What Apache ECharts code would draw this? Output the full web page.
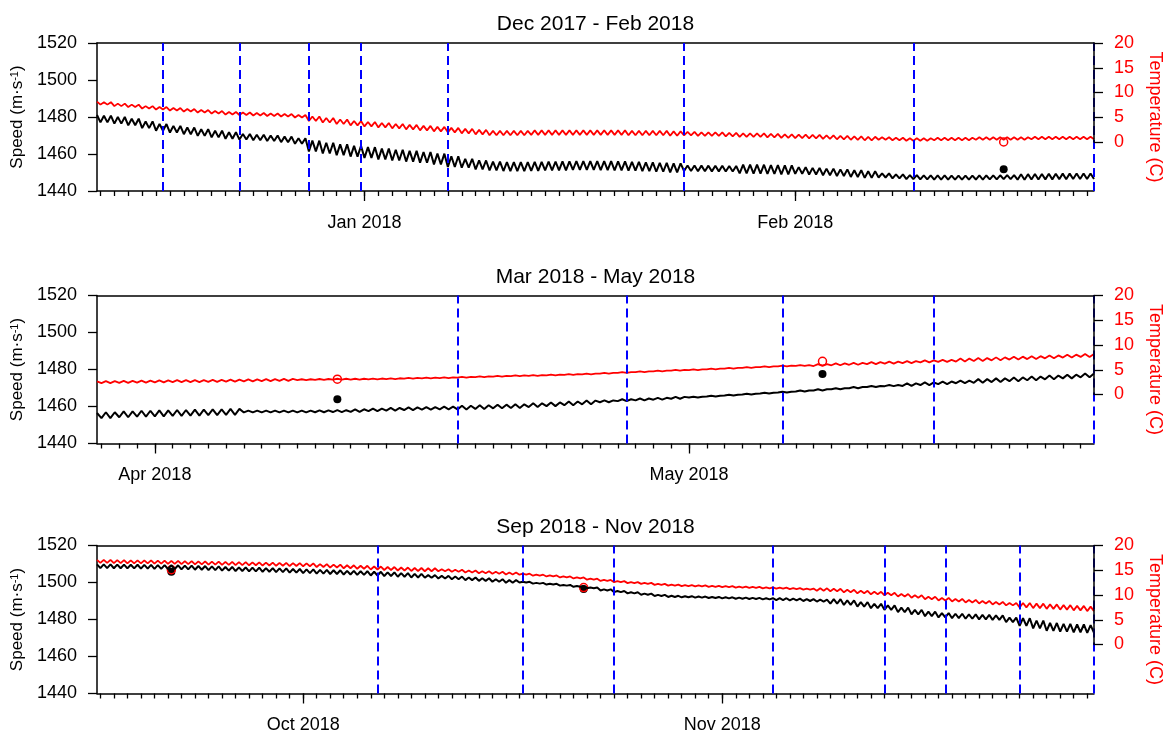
<!DOCTYPE html>
<html>
<head>
<meta charset="utf-8">
<script src="https://cdn.jsdelivr.net/npm/echarts@6/dist/echarts.min.js"></script>
<style>
html, body { margin: 0; padding: 0; background: #fff; }
#chart { width: 1166px; height: 734px; }
</style>
</head>
<body>
<div id="chart"></div>
<script>
// sound speed (m/s) and temperature (C), one value every 6 hours

// ---- panel 1: Dec 2017 - Feb 2018 (starts 2017-12-12 18:00) ----
var p1Speed = [1481.1,
1477.1,1480.7,1477.1,1480.7, 1476.4,1480.0,1476.4,1480.0, 1475.5,1479.1,1475.5,1479.1, 1474.0,1477.6,1474.0,1477.6,
1472.6,1476.2,1472.6,1476.2, 1471.6,1475.2,1471.6,1475.2, 1470.7,1474.3,1470.7,1474.3, 1469.8,1473.4,1469.8,1473.4,
1469.0,1472.6,1469.0,1472.6, 1468.2,1471.8,1468.2,1471.8, 1467.8,1470.8,1467.8,1470.8, 1467.4,1470.4,1467.4,1470.4,
1467.0,1470.0,1467.0,1470.0, 1466.4,1469.4,1466.4,1469.4, 1465.5,1468.5,1465.5,1468.5, 1461.4,1467.2,1461.4,1467.2,
1460.3,1466.1,1460.3,1466.1, 1459.4,1465.2,1459.4,1465.2, 1458.6,1464.4,1458.6,1464.4,
1457.9,1463.7,1457.9,1463.7, 1457.1,1462.9,1457.1,1462.9, 1456.5,1462.3,1456.5,1462.3, 1455.9,1461.7,1455.9,1461.7,
1455.3,1461.1,1455.3,1461.1, 1454.4,1460.2,1454.4,1460.2, 1453.0,1458.8,1453.0,1458.8, 1452.6,1457.4,1452.6,1457.4,
1451.7,1456.5,1451.7,1456.5, 1451.1,1455.9,1451.1,1455.9, 1450.8,1455.6,1450.8,1455.6, 1450.8,1455.6,1450.8,1455.6,
1450.9,1455.7,1450.9,1455.7, 1451.1,1455.9,1451.1,1455.9, 1451.2,1456.0,1451.2,1456.0, 1451.4,1456.2,1451.4,1456.2,
1451.4,1456.2,1451.4,1456.2, 1451.3,1456.1,1451.3,1456.1, 1451.2,1456.0,1451.2,1456.0, 1451.0,1455.8,1451.0,1455.8,
1450.7,1455.5,1450.7,1455.5, 1450.4,1455.2,1450.4,1455.2, 1450.1,1454.9,1450.1,1454.9, 1450.8,1453.8,1450.8,1453.8,
1450.7,1453.7,1450.7,1453.7, 1450.6,1453.6,1450.6,1453.6, 1450.5,1453.5,1450.5,1453.5, 1449.5,1454.3,1449.5,1454.3,
1449.4,1454.2,1449.4,1454.2, 1449.2,1454.0,1449.2,1454.0, 1449.0,1453.8,1449.0,1453.8,
1449.3,1452.9,1449.3,1452.9, 1448.9,1452.5,1448.9,1452.5, 1448.5,1452.1,1448.5,1452.1, 1448.1,1451.7,1448.1,1451.7,
1447.6,1451.2,1447.6,1451.2, 1447.1,1450.7,1447.1,1450.7, 1447.3,1449.5,1447.3,1449.5, 1446.8,1449.0,1446.8,1449.0,
1446.4,1448.6,1446.4,1448.6, 1446.3,1448.5,1446.3,1448.5, 1446.2,1448.4,1446.2,1448.4, 1446.1,1448.3,1446.1,1448.3,
1446.1,1448.3,1446.1,1448.3, 1446.2,1448.4,1446.2,1448.4, 1446.3,1448.5,1446.3,1448.5, 1446.4,1448.6,1446.4,1448.6,
1446.1,1449.1,1446.1,1449.1, 1446.2,1449.2,1446.2,1449.2, 1446.3,1449.3,1446.3,1449.3, 1446.4,1449.4,1446.4,1449.4,
1446.5,1449.5,1446.5,1449.5, 1446.5,1449.5,1446.5];
var p1Temp = [8.15,
7.55,8.05,7.55,8.05, 7.25,7.75,7.25,7.75, 7.05,7.55,7.05,7.55, 6.75,7.25,6.75,7.25,
6.55,7.05,6.55,7.05, 6.35,6.85,6.35,6.85, 6.15,6.65,6.15,6.65, 5.95,6.45,5.95,6.45,
5.75,6.25,5.75,6.25, 5.55,6.05,5.55,6.05, 5.45,5.95,5.45,5.95, 5.35,5.85,5.35,5.85,
5.25,5.75,5.25,5.75, 5.15,5.65,5.15,5.65, 4.95,5.45,4.95,5.45, 4.25,5.15,4.25,5.15,
3.95,4.85,3.95,4.85, 3.65,4.55,3.65,4.55, 3.35,4.25,3.35,4.25,
3.15,4.05,3.15,4.05, 2.95,3.85,2.95,3.85, 2.75,3.65,2.75,3.65, 2.55,3.45,2.55,3.45,
2.35,3.25,2.35,3.25, 2.15,3.05,2.15,3.05, 1.95,2.85,1.95,2.85, 1.75,2.65,1.75,2.65,
1.55,2.45,1.55,2.45, 1.35,2.25,1.35,2.25, 1.35,2.25,1.35,2.25, 1.35,2.25,1.35,2.25,
1.45,2.35,1.45,2.35, 1.45,2.35,1.45,2.35, 1.45,2.35,1.45,2.35, 1.45,2.35,1.45,2.35,
1.45,2.35,1.45,2.35, 1.45,2.35,1.45,2.35, 1.45,2.35,1.45,2.35, 1.35,2.25,1.35,2.25,
1.35,2.25,1.35,2.25, 1.35,2.25,1.35,2.25, 1.25,2.15,1.25,2.15, 1.35,2.05,1.35,2.05,
1.25,1.95,1.25,1.95, 1.25,1.95,1.25,1.95, 1.15,1.85,1.15,1.85, 1.05,1.75,1.05,1.75,
1.05,1.75,1.05,1.75, 0.95,1.65,0.95,1.65, 0.85,1.55,0.85,1.55,
0.80,1.50,0.80,1.50, 0.75,1.45,0.75,1.45, 0.65,1.35,0.65,1.35, 0.55,1.25,0.55,1.25,
0.45,1.15,0.45,1.15, 0.35,1.05,0.35,1.05, 0.45,0.95,0.45,0.95, 0.35,0.85,0.35,0.85,
0.25,0.75,0.25,0.75, 0.25,0.75,0.25,0.75, 0.35,0.85,0.35,0.85, 0.35,0.85,0.35,0.85,
0.35,0.85,0.35,0.85, 0.45,0.95,0.45,0.95, 0.45,0.95,0.45,0.95, 0.45,0.95,0.45,0.95,
0.45,0.95,0.45,0.95, 0.55,1.05,0.55,1.05, 0.55,1.05,0.55,1.05, 0.55,1.05,0.55,1.05,
0.55,1.05,0.55,1.05, 0.55,1.05,0.55];
var p1MonthDates = ['2018-01-01T00', '2018-02-01T00'];
var p1MonthLabels = ['Jan 2018', 'Feb 2018'];
var p1Events = ['2017-12-17T12', '2017-12-23T00', '2017-12-28T00', '2017-12-31T18', '2018-01-07T00', '2018-01-24T00', '2018-02-09T12', '2018-02-22T12'];
var p1ObsTime = ['2018-02-16T00'];
var p1ObsSpeed = [1451.7];
var p1ObsTemp = [0.0];

// ---- panel 2: Mar 2018 - May 2018 (starts 2018-03-28 18:00) ----
var p2Speed = [1456.5,
1453.7,1456.9,1453.7,1456.9, 1454.2,1457.4,1454.2,1457.4, 1454.5,1457.7,1454.5,1457.7,
1454.7,1457.9,1454.7,1457.9, 1454.9,1458.1,1454.9,1458.1, 1455.1,1458.3,1455.1,1458.3, 1455.3,1458.5,1455.3,1458.5,
1455.5,1458.7,1455.5,1458.7, 1456.8,1457.8,1456.8,1457.8, 1456.8,1457.8,1456.8,1457.8, 1456.8,1457.8,1456.8,1457.8,
1456.8,1457.8,1456.8,1457.8, 1456.9,1457.9,1456.9,1457.9, 1457.0,1458.0,1457.0,1458.0, 1457.1,1458.5,1457.1,1458.5,
1457.5,1458.9,1457.5,1458.9, 1457.8,1459.2,1457.8,1459.2, 1458.1,1459.5,1458.1,1459.5, 1458.3,1459.7,1458.3,1459.7,
1458.5,1459.9,1458.5,1459.9, 1458.4,1460.4,1458.4,1460.4, 1458.7,1460.7,1458.7,1460.7, 1459.0,1461.0,1459.0,1461.0,
1459.2,1461.2,1459.2,1461.2, 1459.7,1461.7,1459.7,1461.7, 1460.2,1462.2,1460.2,1462.2, 1460.7,1462.7,1460.7,1462.7,
1461.2,1463.2,1461.2,1463.2, 1462.3,1463.3,1462.3,1463.3, 1462.9,1463.9,1462.9,1463.9, 1463.3,1464.3,1463.3,1464.3,
1463.7,1464.7,1463.7,1464.7, 1464.2,1465.2,1464.2,1465.2,
1464.9,1465.3,1464.9,1465.3, 1465.4,1465.8,1465.4,1465.8, 1465.9,1466.3,1465.9,1466.3, 1466.5,1466.9,1466.5,1466.9,
1467.0,1467.4,1467.0,1467.4, 1467.6,1468.0,1467.6,1468.0, 1468.1,1468.7,1468.1,1468.7, 1468.7,1469.3,1468.7,1469.3,
1469.3,1469.9,1469.3,1469.9, 1469.9,1470.5,1469.9,1470.5, 1470.5,1471.1,1470.5,1471.1, 1471.0,1471.6,1471.0,1471.6,
1471.1,1472.5,1471.1,1472.5, 1471.6,1473.0,1471.6,1473.0, 1472.1,1473.5,1472.1,1473.5, 1472.6,1474.0,1472.6,1474.0,
1472.8,1474.8,1472.8,1474.8, 1473.2,1475.2,1473.2,1475.2, 1473.7,1475.7,1473.7,1475.7, 1474.2,1476.2,1474.2,1476.2,
1474.7,1476.7,1474.7,1476.7, 1475.2,1477.2,1475.2,1477.2, 1475.8,1477.8,1475.8,1477.8];
var p2Temp = [2.65,
2.30,2.70,2.30,2.70, 2.35,2.75,2.35,2.75, 2.40,2.80,2.40,2.80,
2.45,2.85,2.45,2.85, 2.50,2.90,2.50,2.90, 2.50,2.90,2.50,2.90, 2.55,2.95,2.55,2.95,
2.60,3.00,2.60,3.00, 2.65,3.05,2.65,3.05, 2.70,3.10,2.70,3.10, 2.75,3.15,2.75,3.15,
2.92,3.08,2.92,3.08, 2.97,3.13,2.97,3.13, 3.02,3.18,3.02,3.18, 3.02,3.18,3.02,3.18,
3.07,3.23,3.07,3.23, 3.12,3.28,3.12,3.28, 3.22,3.38,3.22,3.38, 3.27,3.43,3.27,3.43,
3.32,3.48,3.32,3.48, 3.42,3.58,3.42,3.58, 3.52,3.68,3.52,3.68, 3.62,3.78,3.62,3.78,
3.72,3.88,3.72,3.88, 3.77,3.93,3.77,3.93, 3.87,4.03,3.87,4.03, 3.97,4.13,3.97,4.13,
4.07,4.23,4.07,4.23, 4.22,4.38,4.22,4.38, 4.37,4.53,4.37,4.53, 4.52,4.68,4.52,4.68,
4.67,4.83,4.67,4.83, 4.82,4.98,4.82,4.98,
4.92,5.08,4.92,5.08, 5.07,5.23,5.07,5.23, 5.22,5.38,5.22,5.38, 5.37,5.53,5.37,5.53,
5.52,5.68,5.52,5.68, 5.67,5.83,5.67,5.83, 5.77,5.93,5.77,5.93, 5.75,6.15,5.75,6.15,
5.90,6.30,5.90,6.30, 6.00,6.40,6.00,6.40, 6.15,6.55,6.15,6.55, 6.25,6.65,6.25,6.65,
6.35,6.75,6.35,6.75, 6.50,6.90,6.50,6.90, 6.60,7.00,6.60,7.00, 6.65,7.25,6.65,7.25,
6.75,7.35,6.75,7.35, 6.90,7.50,6.90,7.50, 7.05,7.65,7.05,7.65, 7.15,7.75,7.15,7.75,
7.30,7.90,7.30,7.90, 7.45,8.05,7.45,8.05, 7.60,8.20,7.60,8.20];
var p2MonthDates = ['2018-04-01T00', '2018-05-01T00'];
var p2MonthLabels = ['Apr 2018', 'May 2018'];
var p2Events = ['2018-04-18T00', '2018-04-27T12', '2018-05-06T06', '2018-05-14T18', '2018-05-23T18'];
var p2ObsTime = ['2018-04-11T06', '2018-05-08T12'];
var p2ObsSpeed = [1463.9, 1477.6];
var p2ObsTemp = [3.1, 6.7];

// ---- panel 3: Sep 2018 - Nov 2018 (starts 2018-09-15 18:00) ----
var p3Speed = [1509.8,
1507.8,1509.8,1507.8,1509.8, 1507.7,1509.7,1507.7,1509.7, 1507.6,1509.6,1507.6,1509.6, 1507.5,1509.5,1507.5,1509.5,
1507.4,1509.4,1507.4,1509.4, 1507.3,1509.3,1507.3,1509.3, 1507.1,1509.1,1507.1,1509.1, 1506.9,1508.9,1506.9,1508.9,
1506.7,1508.7,1506.7,1508.7, 1506.4,1508.4,1506.4,1508.4, 1506.2,1508.2,1506.2,1508.2, 1506.0,1508.0,1506.0,1508.0,
1505.8,1507.8,1505.8,1507.8, 1505.6,1507.6,1505.6,1507.6, 1505.3,1507.3,1505.3,1507.3,
1505.1,1507.1,1505.1,1507.1, 1504.8,1506.8,1504.8,1506.8, 1504.6,1506.6,1504.6,1506.6, 1504.3,1506.3,1504.3,1506.3,
1504.1,1506.1,1504.1,1506.1, 1503.8,1505.8,1503.8,1505.8, 1503.5,1505.5,1503.5,1505.5, 1503.1,1505.1,1503.1,1505.1,
1502.7,1504.7,1502.7,1504.7, 1502.6,1504.0,1502.6,1504.0, 1502.2,1503.6,1502.2,1503.6, 1501.8,1503.2,1501.8,1503.2,
1501.3,1502.7,1501.3,1502.7, 1500.9,1502.3,1500.9,1502.3, 1500.4,1501.8,1500.4,1501.8, 1499.9,1501.3,1499.9,1501.3,
1500.0,1500.4,1500.0,1500.4, 1499.4,1499.8,1499.4,1499.8, 1498.9,1499.3,1498.9,1499.3, 1498.3,1498.7,1498.3,1498.7,
1497.7,1498.1,1497.7,1498.1, 1496.9,1497.3,1496.9,1497.3, 1495.7,1496.3,1495.7,1496.3, 1494.8,1495.4,1494.8,1495.4,
1494.1,1494.7,1494.1,1494.7, 1493.4,1494.0,1493.4,1494.0, 1492.7,1493.3,1492.7,1493.3, 1492.2,1492.8,1492.2,1492.8,
1492.0,1492.6,1492.0,1492.6, 1491.8,1492.4,1491.8,1492.4, 1491.6,1492.2,1491.6,1492.2,
1491.4,1492.0,1491.4,1492.0, 1491.2,1491.8,1491.2,1491.8, 1491.1,1491.7,1491.1,1491.7, 1490.9,1491.5,1490.9,1491.5,
1490.5,1491.5,1490.5,1491.5, 1490.3,1491.3,1490.3,1491.3, 1490.0,1491.0,1490.0,1491.0, 1489.7,1490.7,1489.7,1490.7,
1488.6,1491.0,1488.6,1491.0, 1487.9,1490.3,1487.9,1490.3, 1487.0,1489.4,1487.0,1489.4, 1486.1,1488.5,1486.1,1488.5,
1485.2,1487.6,1485.2,1487.6, 1484.0,1486.4,1484.0,1486.4, 1482.8,1485.2,1482.8,1485.2, 1481.8,1484.2,1481.8,1484.2,
1481.1,1483.5,1481.1,1483.5, 1480.7,1483.1,1480.7,1483.1, 1480.4,1482.8,1480.4,1482.8, 1480.1,1482.5,1480.1,1482.5,
1479.8,1482.2,1479.8,1482.2, 1478.6,1481.0,1478.6,1481.0, 1476.5,1480.7,1476.5,1480.7, 1475.2,1479.4,1475.2,1479.4,
1473.9,1478.1,1473.9,1478.1, 1473.4,1477.6,1473.4,1477.6, 1473.1,1477.3,1473.1,1477.3, 1472.8,1477.0,1472.8];
var p3Temp = [17.1,
16.50,17.10,16.50,17.10, 16.45,17.05,16.45,17.05, 16.40,17.00,16.40,17.00, 16.40,17.00,16.40,17.00,
16.35,16.95,16.35,16.95, 16.30,16.90,16.30,16.90, 16.25,16.85,16.25,16.85, 16.20,16.80,16.20,16.80,
16.15,16.75,16.15,16.75, 16.10,16.70,16.10,16.70, 16.05,16.65,16.05,16.65, 16.00,16.60,16.00,16.60,
15.95,16.55,15.95,16.55, 15.90,16.50,15.90,16.50, 15.85,16.45,15.85,16.45,
15.80,16.40,15.80,16.40, 15.65,16.25,15.65,16.25, 15.55,16.15,15.55,16.15, 15.40,16.00,15.40,16.00,
15.30,15.90,15.30,15.90, 15.15,15.75,15.15,15.75, 15.05,15.65,15.05,15.65, 14.95,15.55,14.95,15.55,
14.85,15.45,14.85,15.45, 14.80,15.40,14.80,15.40, 14.80,15.20,14.80,15.20, 14.70,15.10,14.70,15.10,
14.55,14.95,14.55,14.95, 14.40,14.80,14.40,14.80, 14.30,14.70,14.30,14.70, 14.15,14.55,14.15,14.55,
14.10,14.30,14.10,14.30, 13.90,14.10,13.90,14.10, 13.75,13.95,13.75,13.95, 13.55,13.75,13.55,13.75,
13.35,13.55,13.35,13.55, 13.10,13.30,13.10,13.30, 12.85,13.05,12.85,13.05, 12.60,12.80,12.60,12.80,
12.40,12.60,12.40,12.60, 12.25,12.45,12.25,12.45, 12.05,12.25,12.05,12.25, 11.90,12.10,11.90,12.10,
11.80,12.00,11.80,12.00, 11.75,11.95,11.75,11.95, 11.65,11.85,11.65,11.85,
11.60,11.80,11.60,11.80, 11.50,11.70,11.50,11.70, 11.45,11.65,11.45,11.65, 11.35,11.55,11.35,11.55,
11.30,11.50,11.30,11.50, 11.20,11.40,11.20,11.40, 11.10,11.30,11.10,11.30, 10.85,11.35,10.85,11.35,
10.75,11.25,10.75,11.25, 10.55,11.05,10.55,11.05, 10.35,10.85,10.35,10.85, 10.15,10.65,10.15,10.65,
9.95,10.45,9.95,10.45, 9.70,10.20,9.70,10.20, 9.45,9.95,9.45,9.95, 9.15,9.65,9.15,9.65,
8.90,9.40,8.90,9.40, 8.70,9.20,8.70,9.20, 8.50,9.00,8.50,9.00, 8.30,8.80,8.30,8.80,
8.10,8.60,8.10,8.60, 7.90,8.40,7.90,8.40, 7.50,8.40,7.50,8.40, 7.35,8.25,7.35,8.25,
7.20,8.10,7.20,8.10, 7.05,7.95,7.05,7.95, 6.90,7.80,6.90,7.80, 6.75,7.65,6.75];
var p3MonthDates = ['2018-10-01T00', '2018-11-01T00'];
var p3MonthLabels = ['Oct 2018', 'Nov 2018'];
var p3Events = ['2018-10-06T12', '2018-10-17T06', '2018-10-24T00', '2018-11-04T18', '2018-11-13T00', '2018-11-17T12', '2018-11-23T00', '2018-11-28T12'];
var p3ObsTime = ['2018-09-21T06', '2018-10-21T18'];
var p3ObsSpeed = [1505.8, 1496.5];
var p3ObsTemp = [15.1, 11.5];

var panels = [
    {title: 'Dec 2017 - Feb 2018', start: '2017-12-12T18:00:00Z', top: 43,
     speed: p1Speed, temp: p1Temp, monthDates: p1MonthDates, monthLabels: p1MonthLabels,
     events: p1Events, obsTime: p1ObsTime, obsSpeed: p1ObsSpeed, obsTemp: p1ObsTemp},
    {title: 'Mar 2018 - May 2018', start: '2018-03-28T18:00:00Z', top: 295.5,
     speed: p2Speed, temp: p2Temp, monthDates: p2MonthDates, monthLabels: p2MonthLabels,
     events: p2Events, obsTime: p2ObsTime, obsSpeed: p2ObsSpeed, obsTemp: p2ObsTemp},
    {title: 'Sep 2018 - Nov 2018', start: '2018-09-15T18:00:00Z', top: 545.5,
     speed: p3Speed, temp: p3Temp, monthDates: p3MonthDates, monthLabels: p3MonthLabels,
     events: p3Events, obsTime: p3ObsTime, obsSpeed: p3ObsSpeed, obsTemp: p3ObsTemp}
];

var STEP = 6 * 3600 * 1000;
var FONT = 'Liberation Sans, Arial, sans-serif';

function buildCats(start, n) {
    var t0 = Date.parse(start), out = [];
    for (var i = 0; i < n; i++) {
        out.push(new Date(t0 + i * STEP).toISOString().slice(0, 13));
    }
    return out;
}

function plain(v) { return String(v); }

var titles = [], grids = [], xAxes = [], yAxes = [], series = [];
var blackLine = {color: '#000', width: 1.5};

panels.forEach(function (p, k) {
    var cats = buildCats(p.start, p.speed.length);
    var months = {};
    p.monthDates.forEach(function (d, i) { months[d] = p.monthLabels[i]; });
    var g = 3 * k, y = 4 * k;

    titles.push({
        text: p.title, left: 590.5, top: p.top - 34, textAlign: 'center',
        textStyle: {fontFamily: FONT, fontSize: 21, fontWeight: 'normal', color: '#000'}
    });

    // grid A: speed + frame, grid B: temperature (0-20 C), grid C: month ticks
    grids.push(
        {left: 97, top: p.top, width: 997, height: 148, outerBoundsMode: 'none', containLabel: false},
        {left: 97, top: p.top, width: 997, height: 99, outerBoundsMode: 'none', containLabel: false},
        {left: 97, top: p.top, width: 997, height: 148, outerBoundsMode: 'none', containLabel: false}
    );

    xAxes.push(
        // daily ticks
        {type: 'category', gridIndex: g, position: 'bottom', data: cats, boundaryGap: false,
         axisLine: {onZero: false, lineStyle: blackLine},
         axisTick: {interval: function (i, v) { return v.slice(11) === '00'; }, length: 5, lineStyle: {color: '#000', width: 1.3}},
         axisLabel: {show: false}, splitLine: {show: false}},
        // top frame line, also carries the temperature series
        {type: 'category', gridIndex: g + 1, position: 'top', data: cats, boundaryGap: false,
         axisLine: {onZero: false, lineStyle: blackLine}, axisTick: {show: false}, axisLabel: {show: false}, splitLine: {show: false}},
        // month ticks + labels
        {type: 'category', gridIndex: g + 2, position: 'bottom', data: cats, boundaryGap: false,
         axisLine: {show: false, onZero: false},
         axisTick: {interval: function (i, v) { return v in months; }, length: 10, lineStyle: {color: '#000', width: 1.3}},
         axisLabel: {interval: function (i, v) { return v in months; }, formatter: function (v) { return months[v] || ''; },
                     margin: 23, fontFamily: FONT, fontSize: 18, color: '#000'},
         splitLine: {show: false}}
    );

    yAxes.push(
        {type: 'value', gridIndex: g, position: 'left', min: 1440, max: 1520, interval: 20,
         axisLine: {show: true, lineStyle: blackLine},
         axisTick: {show: true, length: 9, lineStyle: {color: '#000', width: 1.3}},
         axisLabel: {margin: 20, fontFamily: FONT, fontSize: 18, color: '#000', formatter: plain},
         splitLine: {show: false},
         name: 'Speed (m·s{sup|-1})', nameLocation: 'middle', nameRotate: 90, nameGap: 55,
         nameTextStyle: {fontFamily: FONT, fontSize: 17, color: '#000',
                         rich: {sup: {fontFamily: FONT, fontSize: 11, color: '#000', verticalAlign: 'top', padding: [0, 0, 6, 0]}}}},
        {type: 'value', gridIndex: g, position: 'right', min: 1440, max: 1520,
         axisLine: {show: false}, axisTick: {show: false}, axisLabel: {show: false}, splitLine: {show: false},
         name: 'Temperature (C)', nameLocation: 'middle', nameRotate: -90, nameGap: 52,
         nameTextStyle: {fontFamily: FONT, fontSize: 18, color: '#ff0000'}},
        {type: 'value', gridIndex: g + 1, position: 'right', min: 0, max: 20, interval: 5, z: 6,
         axisLine: {show: true, lineStyle: blackLine},
         axisTick: {show: true, length: 9, lineStyle: {color: '#000', width: 1.3}},
         axisLabel: {margin: 20, fontFamily: FONT, fontSize: 18, color: '#ff0000', formatter: plain},
         splitLine: {show: false}},
        {type: 'value', gridIndex: g + 2, show: false, splitLine: {show: false}}
    );

    series.push(
        {type: 'line', xAxisIndex: g, yAxisIndex: y, data: p.speed, symbol: 'none', showSymbol: false,
         lineStyle: {color: '#000', width: 2}, itemStyle: {color: '#000'}, animation: false,
         markLine: {silent: true, symbol: ['none', 'none'], label: {show: false}, animation: false,
                    lineStyle: {color: '#0000ff', type: [9, 5], width: 2},
                    data: p.events.map(function (e) { return {xAxis: e}; })}},
        {type: 'line', xAxisIndex: g + 1, yAxisIndex: y + 2, data: p.temp, symbol: 'none', showSymbol: false, clip: false,
         lineStyle: {color: '#ff0000', width: 1.8}, itemStyle: {color: '#ff0000'}, animation: false},
        {type: 'scatter', xAxisIndex: g, yAxisIndex: y, symbolSize: 8, animation: false,
         itemStyle: {color: '#000', opacity: 1},
         data: p.obsTime.map(function (t, i) { return [t, p.obsSpeed[i]]; })},
        {type: 'scatter', xAxisIndex: g + 1, yAxisIndex: y + 2, symbolSize: 8, clip: false, animation: false,
         itemStyle: {color: 'rgba(0,0,0,0)', borderColor: '#ff0000', borderWidth: 1.5, opacity: 1},
         data: p.obsTime.map(function (t, i) { return [t, p.obsTemp[i]]; })}
    );
});

var chart = echarts.init(document.getElementById('chart'));
chart.setOption({
    animation: false,
    backgroundColor: '#fff',
    title: titles,
    grid: grids,
    xAxis: xAxes,
    yAxis: yAxes,
    series: series
});
</script>
</body>
</html>
